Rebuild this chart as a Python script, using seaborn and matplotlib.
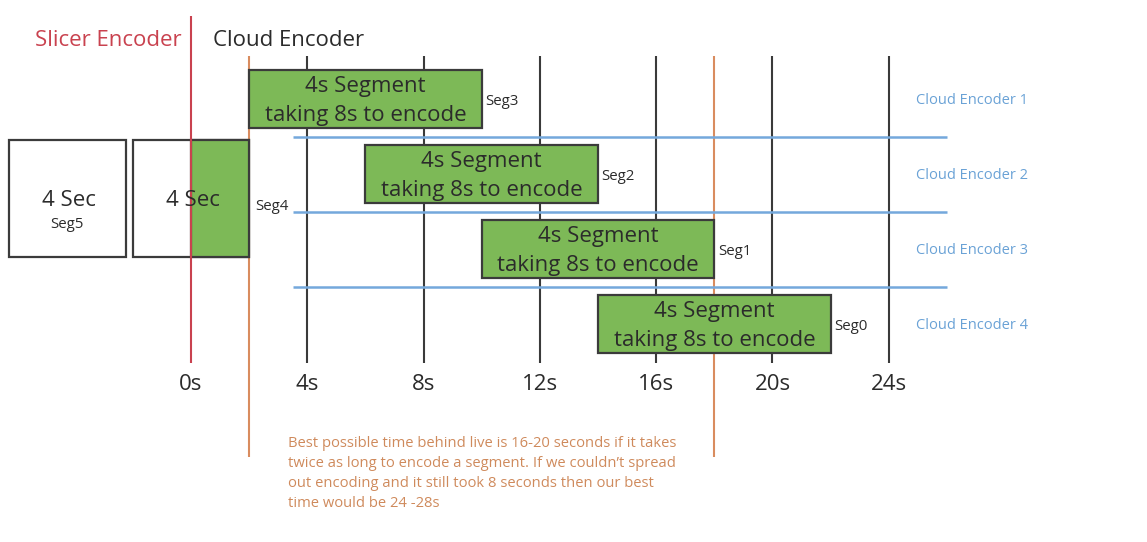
import matplotlib
matplotlib.use("Agg")
import matplotlib.pyplot as plt
import seaborn as sns

# cloud encoder jobs (seconds)
seg_names = ["Seg3", "Seg2", "Seg1", "Seg0"]
enc_start = [2, 6, 10, 14]
enc_time = [8, 8, 8, 8]
enc_lane = [1, 2, 3, 4]
enc_names = ["Cloud Encoder 1", "Cloud Encoder 2", "Cloud Encoder 3", "Cloud Encoder 4"]
lane_breaks = [1.5, 2.5, 3.5]

# slicer segments, 4 s each
slice_names = ["Seg5", "Seg4"]
slice_start = [-6.25, -2]
slice_len = [4, 4]
seg4_green = [0, 2]

tick_secs = [0, 4, 8, 12, 16, 20, 24]
tick_labels = ["0s", "4s", "8s", "12s", "16s", "20s", "24s"]
live_marks = [2, 18]

note = ("Best possible time behind live is 16-20 seconds if it takes\n"
        "twice as long to encode a segment. If we couldn\u2019t spread\n"
        "out encoding and it still took 8 seconds then our best\n"
        "time would be 24 -28s")

RED = "#c9424f"
GREEN = "#7db957"
EDGE = "#3b3b3b"
DARK = "#2b2b2b"
ORANGE = "#d98c5f"
ORANGE_TXT = "#cf8a5c"
BLUE = "#74a8dc"
BLUE_TXT = "#6aa2d6"

sns.set_theme(style="white")
plt.rcParams["font.family"] = ["Open Sans", "DejaVu Sans"]

W, H = 1147, 542
PX = 29.075  # pixels per second


def yl(py):
    # pixel row -> lane units
    return (py - 99) / 75 + 1


fig = plt.figure(figsize=(W / 100, H / 100), dpi=100)
ax = fig.add_axes([0, 0, 1, 1])
ax.set_xlim(-191 / PX, (W - 191) / PX)
ax.set_ylim(yl(H), yl(0))
ax.axis("off")

# timeline lines
ax.vlines(tick_secs[1:], yl(56), yl(363), color="#3a3a3a", lw=1.5, zorder=1)
ax.vlines(live_marks, yl(56), yl(457), color=ORANGE, lw=1.5, zorder=1)
ax.vlines(tick_secs[0], yl(16), yl(363), color=RED, lw=1.5, zorder=5)
ax.hlines(lane_breaks, 3.5, 26, color=BLUE, lw=1.8, zorder=2)

# encoder boxes
ax.barh(enc_lane, enc_time, left=enc_start, height=58 / 75, color=GREEN,
        edgecolor=EDGE, linewidth=1.6, zorder=3)
for s, d, ln, nm in zip(enc_start, enc_time, enc_lane, seg_names):
    ax.text(s + d / 2, ln + 0.03, "4s Segment\ntaking 8s to encode", ha="center",
            va="center", fontsize=16, color=DARK, linespacing=1.47, zorder=6)
    ax.text(s + d + 0.12, ln + 0.03, nm, ha="left", va="center",
            fontsize=10.8, color=DARK, zorder=6)
for ln, nm in zip(enc_lane, enc_names):
    ax.text(24.94, ln + 0.02, nm, ha="left", va="center", fontsize=10.5,
            color=BLUE_TXT)

# slicer boxes
slice_y = yl(198.5)
ax.barh([slice_y] * 2, slice_len, left=slice_start, height=117 / 75,
        color="white", edgecolor=EDGE, linewidth=1.6, zorder=3)
ax.barh(slice_y, seg4_green[1] - seg4_green[0], left=seg4_green[0],
        height=117 / 75, color=GREEN, edgecolor=EDGE, linewidth=1.6, zorder=3)
for s, ln in zip(slice_start, slice_len):
    ax.text(s + ln / 2 + 0.05, yl(201), "4 Sec", ha="center", va="center",
            fontsize=16, color=DARK, zorder=6)
ax.text(slice_start[0] + slice_len[0] / 2, yl(224), slice_names[0], ha="center",
        va="center", fontsize=10.8, color=DARK, zorder=6)
ax.text(slice_start[1] + slice_len[1] + 0.22, yl(207), slice_names[1], ha="left",
        va="center", fontsize=10.8, color=DARK, zorder=6)

# time labels
for t, lab in zip(tick_secs, tick_labels):
    ax.text(t, yl(384), lab, ha="center", va="center", fontsize=16, color=DARK)

# headers
ax.text(-0.31, yl(40), "Slicer Encoder", ha="right", va="center",
        fontsize=16, color=RED)
ax.text(0.76, yl(40), "Cloud Encoder", ha="left", va="center",
        fontsize=16, color=DARK)

ax.text(3.34, yl(436), note, ha="left", va="top", fontsize=10.66,
        color=ORANGE_TXT, linespacing=1.45)

fig.savefig("out.png", dpi=100)
